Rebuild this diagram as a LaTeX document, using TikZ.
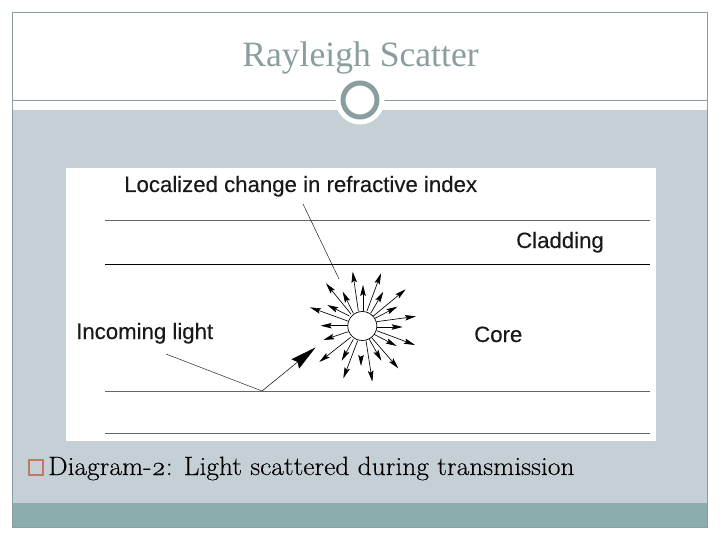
\documentclass[tikz,border=0pt]{standalone}
\usepackage{fontspec}
\setsansfont{Liberation Sans}[FakeBold=0.25]
\newfontfamily\bodyserif{Liberation Serif}
\newfontfamily\capserif{Latin Modern Roman}[FakeStretch=1.04,FakeBold=0.25,Numbers=OldStyle]
\usetikzlibrary{arrows.meta}
\definecolor{paneblue}{HTML}{C5D0D6}
\definecolor{bandteal}{HTML}{8CADAE}
\definecolor{framegrey}{HTML}{8A9EA0}
\definecolor{bulletred}{HTML}{C07A60}
\tikzset{
  lbl/.style={font=\sffamily\fontsize{22.2}{26}\selectfont, text=black!90, inner sep=0pt, anchor=base west},
  fiberline/.style={line width=1pt, draw=#1},
  leader/.style={line width=.5pt, draw=black!85},
  ray/.style={line width=.65pt, -{Stealth[length=11pt,width=5.5pt,inset=2pt]}},
}
\begin{document}
\begin{tikzpicture}[x=1pt,y=-1pt]
\useasboundingbox (0,0) rectangle (720,540);
\fill[white] (0,0) rectangle (720,540);
\fill[paneblue] (12,110) rectangle (707,503);
\fill[bandteal] (12,503) rectangle (707,527);
\draw[framegrey,line width=.9pt] (12,12) rectangle (707,527);
\draw[framegrey,line width=.9pt] (12,100) -- (707,100);
\fill[white] (360,100) circle (24.5);
\node[draw=framegrey,line width=5pt,circle,minimum size=34pt,inner sep=0pt,fill=white] (ring) at (360,100) {};
\node[text=framegrey,font=\bodyserif\fontsize{35.6}{40}\selectfont,inner sep=0pt,anchor=base] (title) at (360.5,67) {Rayleigh Scatter};
\fill[white] (66,168) rectangle (656,441);
% fibre boundaries
\coordinate (a1) at (105,221); \coordinate (a2) at (650,221);
\coordinate (b1) at (105,264); \coordinate (b2) at (650,264);
\coordinate (c1) at (105,391); \coordinate (c2) at (650,391);
\coordinate (d1) at (105,433); \coordinate (d2) at (650,433);
\draw[fiberline=black!60] (a1) -- (a2);
\draw[fiberline=black] (b1) -- (b2);
\draw[fiberline=black!60] (c1) -- (c2);
\draw[fiberline=black!60] (d1) -- (d2);
% labels
\node[lbl] (loc) at (124,192) {Localized change in refractive index};
\node[lbl] (clad) at (516,248) {Cladding};
\node[lbl] (core) at (474,342) {Core};
\node[lbl] (inc) at (76,339) {Incoming light};
% leaders
\coordinate (locfrom) at (303,204); \coordinate (locto) at (339,279);
\draw[leader] (locfrom) -- (locto);
\coordinate (incfrom) at (166,354); \coordinate (bounce) at (262,391); \coordinate (inctip) at (315.5,347.5);
\draw[leader] (incfrom) -- (bounce);
\draw[line width=.5pt,-{Stealth[length=26pt,width=12pt,inset=3pt]}] (bounce) -- (inctip);
% scattering centre
\node[draw,circle,line width=.7pt,minimum size=29pt,inner sep=0pt] (centre) at (362.3,326) {};
\foreach \sx/\sy/\tx/\ty in {
 265/213/248/95, 279/213/279/135, 291/213/333/100, 302/220/340/155,
 310/228/407/148, 315/235/382/200, 320/245/438/229, 320/261/398/261,
 320/272/435/315, 312/283/380/318, 305/293/385/385, 298/298/334/362,
 288/302/307/425, 273/348/273/378, 263/302/220/415, 250/298/215/362,
 242/292/148/366, 235/275/160/300, 233/257/152/257, 238/228/172/195,
 233/243/120/202, 250/220/218/155, 243/222/168/130}{
  \draw[ray] ({270+\sx/3},{240+\sy/3}) -- ({270+\tx/3},{240+\ty/3});
}
% caption
\node[draw=bulletred,line width=1.8pt,minimum size=14.5pt,inner sep=0pt] (bullet) at (36,467.5) {};
\node[font=\capserif\fontsize{26.4}{30}\selectfont,text=black,inner sep=0pt,anchor=base west] (cap) at (48,475) {Diagram-2: Light scattered during transmission};
\end{tikzpicture}
\end{document}
